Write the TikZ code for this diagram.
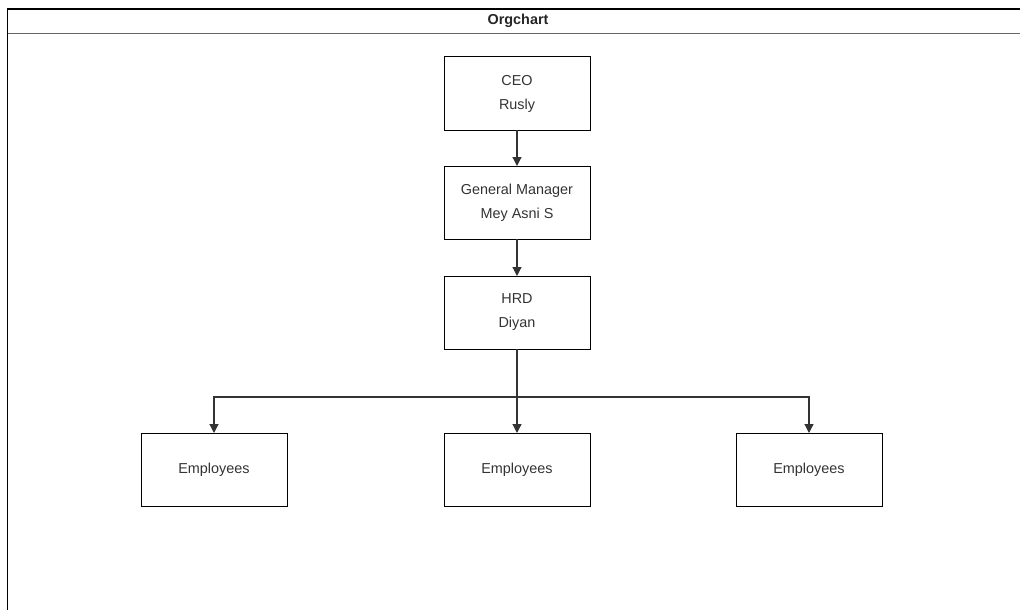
\documentclass[tikz,border=0pt]{standalone}
\usepackage{fontspec}
\setmainfont{Liberation Sans}
\usetikzlibrary{positioning,arrows.meta}

\definecolor{txt}{HTML}{333333}
\definecolor{sep}{HTML}{666666}

\tikzset{
	box/.style={draw=black,line width=1pt,outer sep=0pt,minimum width=146pt,minimum height=73pt,
		align=center,text=txt,font=\fontsize{14.4}{24}\selectfont},
	link/.style={draw=txt,line width=1.2pt,-{Triangle[width=9pt,length=9pt]}}
}

\begin{document}
\begin{tikzpicture}[x=1pt,y=-1pt]
	\clip (0,0) rectangle (1020,610);
	\draw[line width=1.4pt] (7.5,640) -- (7.5,9) -- (1040,9);
	\draw[sep,line width=1.4pt] (7.5,33.3) -- (1040,33.3);
	\node[text=black!85,font=\fontsize{14.4}{17}\selectfont\bfseries] (title) at (518,21) {Orgchart};
	\node[box] (ceo) at (517,93.5) {CEO\\Rusly};
	\node[box,below=36pt of ceo] (gm) {General Manager\\Mey Asni S};
	\node[box,below=37pt of gm] (hrd) {HRD\\Diyan};
	\node[box,below=84pt of hrd] (emp2) {Employees};
	\node[box,left=157pt of emp2] (emp1) {Employees};
	\node[box,right=146pt of emp2] (emp3) {Employees};
	\coordinate[below=48pt of hrd.south] (fork);
	\draw[link] (ceo) -- (gm);
	\draw[link] (gm) -- (hrd);
	\draw[link] (hrd) -- (emp2);
	\draw[link] (fork) -| (emp1);
	\draw[link] (fork) -| (emp3);
\end{tikzpicture}
\end{document}
